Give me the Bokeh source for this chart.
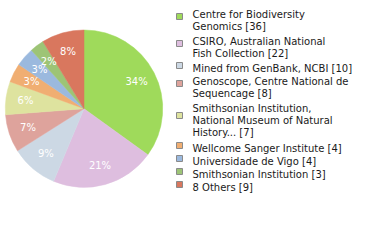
import math
from bokeh.plotting import figure
from bokeh.models import Range1d, ColumnDataSource
from bokeh.core.properties import value
from bokeh.embed import file_html
from bokeh.resources import INLINE

# ---- data ----
names = [
    "Centre for Biodiversity\nGenomics",
    "CSIRO, Australian National\nFish Collection",
    "Mined from GenBank, NCBI",
    "Genoscope, Centre National de\nSequencage",
    "Smithsonian Institution,\nNational Museum of Natural\nHistory...",
    "Wellcome Sanger Institute",
    "Universidade de Vigo",
    "Smithsonian Institution",
    "8 Others",
]
counts = [36, 22, 10, 8, 7, 4, 4, 3, 9]
colors = ["#9FDA5B", "#DEBEDF", "#CCD8E4", "#DEA39C", "#DEE39F",
          "#F0AE72", "#9BB9DE", "#9DC476", "#D9775E"]

W, H = 380, 240
FONT = "DejaVu Sans"

p = figure(width=W, height=H, x_range=Range1d(0, W), y_range=Range1d(0, H),
           min_border=0, toolbar_location=None, output_backend="svg",
           x_axis_location=None, y_axis_location=None)
p.grid.visible = False
p.outline_line_color = None
p.background_fill_color = "white"
p.border_fill_color = "white"

def Y(py):
    return H - py

# ---- pie ----
cx, cy, r = 83.5, 108.2, 78.7
total = sum(counts)
starts, ends, lx, ly, labels = [], [], [], [], []
acc = 0
for c in counts:
    a0 = math.pi / 2 - 2 * math.pi * acc / total
    acc += c
    a1 = math.pi / 2 - 2 * math.pi * acc / total
    starts.append(a0)
    ends.append(a1)
    mid = (a0 + a1) / 2
    lx.append(cx + 0.75 * r * math.cos(mid))
    ly.append(Y(cy) + 0.75 * r * math.sin(mid))
    labels.append("%d%%" % int(100 * c / total))

src = ColumnDataSource(dict(start=starts, end=ends, color=colors,
                            lx=lx, ly=ly, label=labels))
p.wedge(x=cx, y=Y(cy), radius=r, start_angle="start", end_angle="end",
        direction="clock", fill_color="color", line_color="color",
        line_width=0.5, source=src)
p.text(x="lx", y="ly", text="label", source=src, text_color="white",
       text_font=value(FONT), text_font_size="10px",
       text_align="center", text_baseline="middle")

# ---- legend ----
line_h = 12
top = 6.0
tx, ty, tt = [], [], []
sx, sy = [], []
for name, c in zip(names, counts):
    lines = (name + " [%d]" % c).split("\n")
    n = len(lines)
    for i, ln in enumerate(lines):
        tx.append(192)
        ty.append(Y(top + i * line_h + 7.5))
        tt.append(ln)
    sx.append(179)
    sy.append(Y(top + 5 * n))
    top += 13 * n + (1 if n > 1 else 0)

p.rect(x=sx, y=sy, width=6, height=6, fill_color=colors,
       line_color="#8a8a8a", line_width=1)
p.text(x=tx, y=ty, text=tt, text_color="#1a1a1a",
       text_font=value(FONT), text_font_size="10px",
       text_align="left", text_baseline="alphabetic")

open("out.html", "w").write(file_html(p, INLINE))
